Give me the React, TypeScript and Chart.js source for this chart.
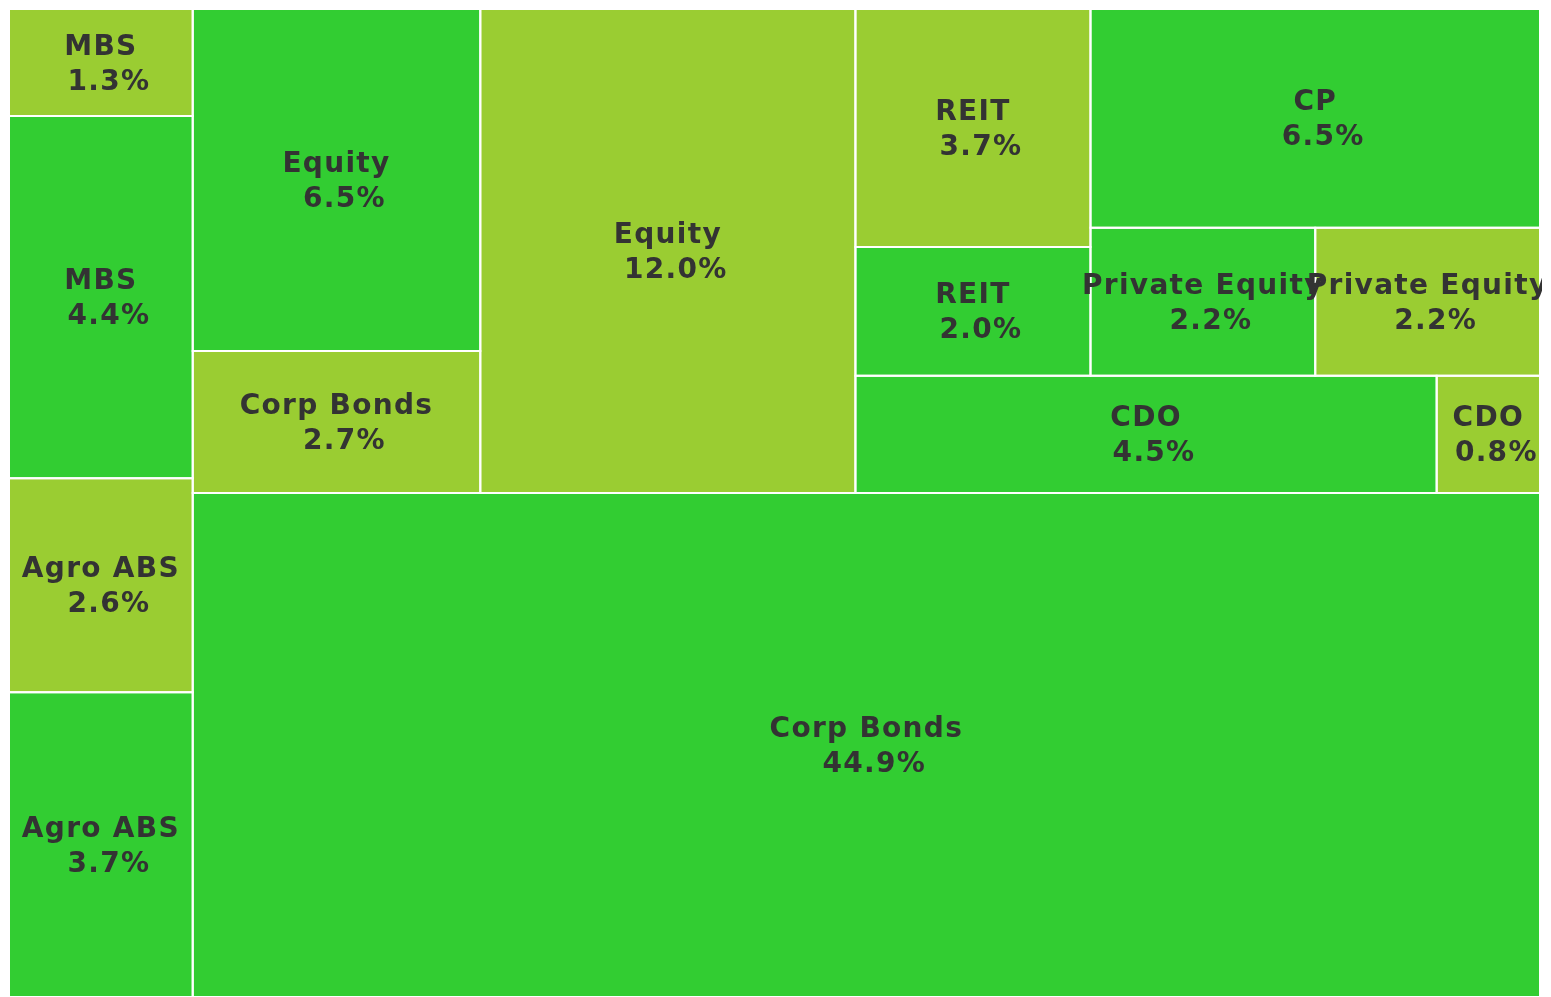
import React, { useEffect, useRef } from 'react';
import { Chart, registerables } from 'chart.js';

Chart.register(...registerables);

// ---- data (in drawing order) ----
const categories: string[] = [
  'Agro ABS', 'Agro ABS', 'MBS', 'MBS', 'Corp Bonds', 'Corp Bonds', 'Equity', 'Equity',
  'CDO', 'CDO', 'REIT', 'REIT', 'Private Equity', 'Private Equity', 'CP',
];
const shares: number[] = [3.7, 2.6, 4.4, 1.3, 44.9, 2.7, 6.5, 12.0, 4.5, 0.8, 2.0, 3.7, 2.2, 2.2, 6.5];
const palette: string[] = ['#32CD32', '#9ACD32'];

// ---- squarified layout (same algorithm as the python "squarify" package) ----
type Rect = { x: number; y: number; dx: number; dy: number };
const sum = (a: number[]) => a.reduce((s, v) => s + v, 0);

function normalize(sizes: number[], dx: number, dy: number): number[] {
  const total = sum(sizes);
  return sizes.map((s) => (s * dx * dy) / total);
}
function layoutRow(sizes: number[], x: number, y: number, dx: number, dy: number): Rect[] {
  const width = sum(sizes) / dy;
  let yy = y;
  return sizes.map((s) => {
    const r = { x, y: yy, dx: width, dy: s / width };
    yy += s / width;
    return r;
  });
}
function layoutCol(sizes: number[], x: number, y: number, dx: number, dy: number): Rect[] {
  const height = sum(sizes) / dx;
  let xx = x;
  return sizes.map((s) => {
    const r = { x: xx, y, dx: s / height, dy: height };
    xx += s / height;
    return r;
  });
}
function layout(sizes: number[], x: number, y: number, dx: number, dy: number): Rect[] {
  return dx >= dy ? layoutRow(sizes, x, y, dx, dy) : layoutCol(sizes, x, y, dx, dy);
}
function leftover(sizes: number[], x: number, y: number, dx: number, dy: number): [number, number, number, number] {
  const covered = sum(sizes);
  if (dx >= dy) {
    const w = covered / dy;
    return [x + w, y, dx - w, dy];
  }
  const h = covered / dx;
  return [x, y + h, dx, dy - h];
}
function worstRatio(sizes: number[], x: number, y: number, dx: number, dy: number): number {
  return Math.max(...layout(sizes, x, y, dx, dy).map((r) => Math.max(r.dx / r.dy, r.dy / r.dx)));
}
function squarify(sizes: number[], x: number, y: number, dx: number, dy: number): Rect[] {
  if (sizes.length === 0) return [];
  if (sizes.length === 1) return layout(sizes, x, y, dx, dy);
  let i = 1;
  while (i < sizes.length && worstRatio(sizes.slice(0, i), x, y, dx, dy) >= worstRatio(sizes.slice(0, i + 1), x, y, dx, dy)) {
    i += 1;
  }
  const current = sizes.slice(0, i);
  const remaining = sizes.slice(i);
  const [lx, ly, ldx, ldy] = leftover(current, x, y, dx, dy);
  return layout(current, x, y, dx, dy).concat(squarify(remaining, lx, ly, ldx, ldy));
}

export default function App() {
  const ref = useRef<HTMLCanvasElement>(null);

  useEffect(() => {
    if (!ref.current) return;
    const rects = squarify(normalize(shares, 100, 100), 0, 0, 100, 100);

    const datasets = rects.map((r, i) => ({
      label: categories[i],
      data: [
        { x: r.x, y: r.y },
        { x: r.x + r.dx, y: r.y },
        { x: r.x + r.dx, y: r.y + r.dy },
        { x: r.x, y: r.y + r.dy },
        { x: r.x, y: r.y },
      ],
      backgroundColor: palette[i % palette.length],
      borderColor: '#ffffff',
      borderWidth: 2,
      borderJoinStyle: 'miter' as const,
      borderCapStyle: 'square' as const,
      fill: 'shape' as const,
      pointRadius: 0,
      pointHoverRadius: 0,
      pointHitRadius: 0,
      tension: 0,
      clip: false as const,
    }));

    const labelPlugin = {
      id: 'cellLabels',
      afterDatasetsDraw(chart: any) {
        const { ctx, scales } = chart;
        const xs = scales.x;
        const ys = scales.y;
        ctx.save();
        ctx.font = 'bold 28px "DejaVu Sans"';
        ctx.fillStyle = '#333333';
        ctx.textAlign = 'center';
        ctx.textBaseline = 'alphabetic';
        (ctx as any).letterSpacing = '1.3px';
        rects.forEach((r, i) => {
          const cx = xs.getPixelForValue(r.x + r.dx / 2);
          const cy = ys.getPixelForValue(r.y + r.dy / 2);
          ctx.fillText(categories[i], cx, cy - 8);
          ctx.fillText(shares[i].toFixed(1) + '%', cx + 8, cy + 27);
        });
        ctx.restore();
      },
    };

    const chart = new Chart(ref.current, {
      type: 'line',
      data: { datasets: datasets as any },
      options: {
        animation: false,
        responsive: true,
        maintainAspectRatio: false,
        events: [],
        layout: { padding: { left: 1, top: 1, right: 2, bottom: 1 } },
        scales: {
          x: { type: 'linear', min: 0, max: 100, display: false },
          y: { type: 'linear', min: 0, max: 100, display: false },
        },
        plugins: {
          legend: { display: false },
          tooltip: { enabled: false },
          filler: { drawTime: 'beforeDatasetsDraw' } as any,
        },
      },
      plugins: [labelPlugin],
    });
    return () => chart.destroy();
  }, []);

  return (
    <div style={{ position: 'relative', width: 1534, height: 990 }}>
      <canvas ref={ref} />
    </div>
  );
}
